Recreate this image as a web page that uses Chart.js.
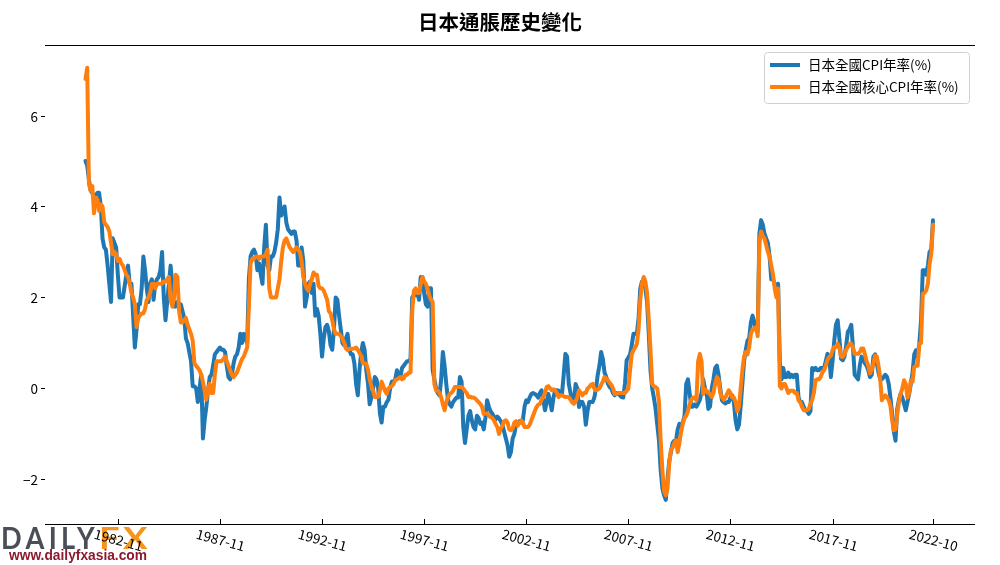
<!DOCTYPE html>
<html>
<head>
<meta charset="utf-8">
<script src="https://cdn.jsdelivr.net/npm/chart.js@4.4.1/dist/chart.umd.min.js"></script>
<style>
  html, body { margin: 0; padding: 0; background: #fff; }
  #wrap { width: 1000px; height: 565px; position: relative; }
</style>
</head>
<body>
<div id="wrap"><canvas id="chart"></canvas></div>
<script>
// monthly data, first point 1981-04, last point 2022-10
const START_YEAR = 1981;
const START_MONTH = 4;

// 日本全國CPI年率(%)
const CPI = [
  5.0, 4.9, 4.6, 4.35, 4.3, 4.2, 4.25, 4.3, 4.3,                       // 1981 Apr-Dec
  4.0, 3.3, 3.1, 3.05, 2.7, 2.3, 1.9, 3.3, 3.2, 3.1, 2.5, 2.0,         // 1982
  2.0, 2.0, 2.25, 2.5, 2.7, 2.3, 2.3, 1.6, 0.9, 1.3, 1.85, 1.85,       // 1983
  2.2, 2.9, 2.6, 2.2, 1.9, 2.3, 2.4, 1.95, 2.3, 2.4, 2.45, 2.6,        // 1984
  3.0, 2.0, 1.5, 1.9, 2.3, 2.7, 2.3, 1.8, 1.8, 1.9, 1.85, 1.85,        // 1985
  1.7, 1.55, 1.1, 1.0, 0.8, 0.6, 0.05, 0.05, 0.0, -0.3, 0.0, 0.3,      // 1986
  -1.1, -0.7, -0.4, -0.05, 0.25, 0.3, 0.5, 0.75, 0.8, 0.85, 0.9, 0.85, // 1987
  0.85, 0.8, 0.5, 0.25, 0.2, 0.3, 0.55, 0.7, 0.75, 0.9, 1.2, 1.0,      // 1988
  1.2, 1.1, 1.0, 2.4, 2.9, 3.0, 3.05, 2.95, 2.6, 2.75, 2.5, 2.3,       // 1989
  3.1, 3.6, 2.7, 2.6, 2.9, 2.9, 3.0, 3.2, 3.5, 4.2, 3.8, 3.9,          // 1990
  4.0, 3.65, 3.5, 3.45, 3.4, 3.45, 3.45, 3.25, 2.7, 2.7, 3.1, 2.8,     // 1991
  1.8, 2.0, 2.3, 2.35, 2.1, 2.3, 1.6, 1.75, 1.6, 1.2, 0.7, 1.1,        // 1992
  1.35, 1.4, 1.25, 0.95, 0.85, 1.3, 2.0, 1.95, 1.6, 1.3, 1.0, 0.95,    // 1993
  1.1, 1.2, 0.85, 0.75, 0.75, 0.55, 0.1, -0.15, 0.4, 0.8, 1.0, 0.85,   // 1994
  0.4, 0.1, -0.35, -0.2, 0.0, 0.25, 0.2, 0.0, -0.55, -0.75, -0.4, -0.4, // 1995
  -0.3, -0.25, 0.0, 0.15, 0.15, 0.2, 0.4, 0.3, 0.25, 0.45, 0.5, 0.55,  // 1996
  0.6, 0.6, 0.65, 2.0, 2.05, 2.05, 2.1, 1.95, 2.45, 2.45, 2.1, 1.85,   // 1997
  1.8, 2.2, 2.2, 0.4, 0.2, 0.0, -0.1, -0.15, 0.2, 0.8, 0.5, 0.1,       // 1998
  -0.25, -0.35, -0.4, -0.3, -0.25, -0.2, -0.2, 0.25, 0.15, -0.85, -1.2, -0.9,    // 1999
  -0.6, -0.5, -0.7, -0.85, -0.9, -0.6, -0.65, -0.78, -0.75, -0.9, -0.65, -0.26,  // 2000
  -0.4, -0.5, -0.55, -0.62, -0.68, -0.62, -0.66, -0.72, -0.8, -0.95, -1.1, -1.25, // 2001
  -1.5, -1.4, -1.1, -1.0, -0.8, -0.78, -0.72, -0.75, -0.7, -0.4, -0.26, -0.3,    // 2002
  -0.2, -0.12, -0.1, -0.12, -0.15, -0.2, -0.1, -0.04, -0.25, -0.48, -0.3, -0.12, // 2003
  -0.3, -0.48, -0.2, -0.04, -0.04, -0.05, -0.1, -0.12, 0.3, 0.76, 0.7, 0.1,      // 2004
  -0.1, -0.3, -0.3, 0.1, 0.0, -0.41, -0.3, -0.3, -0.4, -0.8, -0.5, -0.3,         // 2005
  -0.3, -0.3, -0.2, 0.0, 0.3, 0.5, 0.8, 0.65, 0.35, 0.25, 0.1, 0.03,             // 2006
  0.0, -0.1, -0.15, -0.1, -0.12, -0.15, -0.19, -0.2, 0.1, 0.62, 0.68, 0.75,      // 2007
  0.95, 1.2, 1.2, 1.2, 1.55, 2.2, 2.35, 2.35, 2.2, 1.9, 1.2, 0.4,                // 2008
  0.0, -0.2, -0.45, -0.8, -1.15, -1.8, -2.2, -2.35, -2.45, -2.0, -1.6, -1.4,     // 2009
  -1.2, -1.15, -1.15, -0.9, -0.78, -0.85, -0.75, -0.6, 0.1, 0.2, -0.1, -0.4,     // 2010
  -0.4, -0.35, -0.4, -0.33, -0.25, -0.1, 0.2, 0.0, -0.1, -0.45, -0.4, 0.0,       // 2011
  0.2, 0.45, 0.5, 0.3, 0.0, -0.26, -0.3, -0.33, -0.3, -0.3, -0.2, -0.15,         // 2012
  -0.3, -0.7, -0.9, -0.8, -0.4, 0.1, 0.6, 0.85, 1.05, 1.1, 1.45, 1.6,            // 2013
  1.45, 1.3, 1.25, 3.4, 3.7, 3.6, 3.4, 3.3, 3.2, 2.9, 2.4, 2.4,                  // 2014
  2.3, 2.1, 2.3, 0.6, 0.2, 0.45, 0.25, 0.25, 0.35, 0.25, 0.3, 0.25,              // 2015
  0.3, 0.3, -0.2, -0.3, -0.3, -0.4, -0.48, -0.5, -0.56, -0.5, 0.45, 0.4,         // 2016
  0.45, 0.4, 0.4, 0.45, 0.45, 0.45, 0.6, 0.76, 0.7, 0.25, 0.6, 1.05,             // 2017
  1.4, 1.5, 1.1, 0.65, 0.62, 0.7, 0.95, 1.25, 1.3, 1.4, 0.9, 0.3,                // 2018
  0.25, 0.2, 0.5, 0.7, 0.65, 0.55, 0.5, 0.4, 0.25, 0.3, 0.7, 0.75,               // 2019
  0.55, 0.35, 0.2, 0.2, 0.25, 0.3, 0.25, 0.1, -0.2, -0.55, -0.95, -1.15,         // 2020
  -0.45, -0.25, -0.12, -0.2, -0.34, -0.48, -0.3, -0.12, 0.1, 0.35, 0.75, 0.84,   // 2021
  0.7, 1.0, 1.5, 2.6, 2.6, 2.5, 2.7, 3.0, 3.05, 3.7,                             // 2022 Jan-Oct
];

// 日本全國核心CPI年率(%)
const CORE_CPI = [
  6.8, 7.05, 4.5, 4.35, 4.45, 3.85, 4.2, 4.15, 3.9,                    // 1981 Apr-Dec
  4.05, 4.0, 3.65, 3.6, 3.55, 3.45, 3.2, 2.95, 3.0, 2.95, 2.8, 2.85,   // 1982
  2.75, 2.7, 2.6, 2.5, 2.45, 2.3, 2.1, 2.0, 1.85, 1.35, 1.55, 1.6,     // 1983
  1.65, 1.65, 1.75, 1.95, 2.0, 2.1, 2.3, 2.3, 2.2, 2.3, 2.3, 2.3,      // 1984
  2.3, 2.35, 2.35, 2.4, 2.45, 1.95, 1.8, 2.0, 2.5, 2.45, 1.7, 1.45,    // 1985
  1.45, 1.5, 1.55, 1.4, 1.3, 1.2, 1.05, 0.55, 0.5, 0.45, 0.4, 0.3,     // 1986
  0.15, -0.05, -0.25, 0.0, 0.1, -0.1, -0.1, 0.3, 0.6, 0.6, 0.6, 0.6,   // 1987
  0.65, 0.7, 0.6, 0.5, 0.4, 0.3, 0.25, 0.3, 0.35, 0.45, 0.55, 0.65,    // 1988
  0.7, 0.8, 0.9, 1.8, 2.75, 2.85, 2.85, 2.9, 2.9, 2.85, 2.9, 2.9,      // 1989
  2.9, 2.95, 3.05, 2.2, 2.0, 2.0, 2.0, 2.0, 2.2, 2.4, 2.8, 3.1,        // 1990
  3.25, 3.3, 3.2, 3.1, 3.05, 3.0, 3.05, 3.1, 3.05, 3.0, 2.8, 2.45,     // 1991
  2.3, 2.2, 2.15, 2.3, 2.4, 2.55, 2.5, 2.5, 2.25, 2.2, 2.2, 2.15,      // 1992
  2.05, 1.95, 1.7, 1.65, 1.5, 1.3, 1.2, 1.2, 1.2, 1.15, 1.1, 1.0,      // 1993
  0.88, 0.84, 0.87, 0.87, 0.87, 0.88, 0.9, 0.85, 0.78, 0.72, 0.55, 0.55, // 1994
  0.54, 0.42, 0.2, 0.05, -0.05, -0.19, -0.19, -0.18, -0.05, 0.15, 0.05, -0.05, // 1995
  -0.12, 0.0, 0.03, 0.05, 0.1, 0.18, 0.2, 0.22, 0.25, 0.2, 0.22, 0.3,  // 1996
  0.3, 0.35, 0.35, 1.7, 2.15, 2.2, 2.1, 2.1, 2.3, 2.45, 2.35, 2.3,     // 1997
  2.2, 2.05, 1.95, 1.9, 0.1, -0.04, -0.05, -0.1, -0.2, -0.35, -0.48, -0.3,     // 1998
  -0.2, -0.12, -0.1, -0.05, 0.03, 0.03, 0.03, 0.03, 0.03, 0.0, -0.06, -0.1,    // 1999
  -0.19, -0.18, -0.2, -0.2, -0.22, -0.26, -0.3, -0.34, -0.4, -0.56, -0.55, -0.55, // 2000
  -0.6, -0.63, -0.65, -0.7, -0.78, -0.85, -1.0, -0.88, -0.82, -0.72, -0.7, -0.75, // 2001
  -0.9, -0.92, -0.88, -0.75, -0.72, -0.82, -0.75, -0.7, -0.75, -0.85, -0.85, -0.85, // 2002
  -0.8, -0.7, -0.6, -0.5, -0.41, -0.36, -0.34, -0.25, -0.19, -0.1, 0.03, 0.05,  // 2003
  0.0, -0.04, -0.02, -0.04, -0.1, -0.19, -0.15, -0.15, -0.17, -0.19, -0.19, -0.19, // 2004
  -0.25, -0.3, -0.34, -0.28, -0.2, -0.04, -0.1, -0.15, -0.1, -0.1, 0.0, 0.03,  // 2005
  0.08, 0.1, 0.0, -0.04, -0.02, 0.0, 0.08, 0.15, 0.25, 0.22, 0.18, 0.12,       // 2006
  0.08, 0.0, -0.12, -0.12, -0.1, -0.1, -0.1, -0.1, -0.1, -0.05, 0.0, 0.4,      // 2007
  0.75, 0.84, 0.9, 0.98, 1.3, 1.95, 2.3, 2.45, 2.35, 2.1, 1.5, 0.84,           // 2008
  0.1, 0.05, 0.03, 0.0, -0.3, -1.15, -1.8, -2.25, -2.35, -2.2, -1.65, -1.35,   // 2009
  -1.3, -1.2, -1.14, -1.4, -1.2, -0.95, -0.78, -0.65, -0.6, -0.5, -0.35, -0.25, // 2010
  -0.2, -0.2, -0.26, 0.6, 0.76, 0.6, -0.12, -0.02, -0.05, -0.1, -0.12, -0.19,  // 2011
  -0.1, 0.1, 0.25, 0.2, -0.1, -0.19, -0.25, -0.2, -0.12, -0.04, -0.1, -0.2,    // 2012
  -0.2, -0.3, -0.5, -0.4, 0.0, 0.4, 0.7, 0.8, 0.75, 0.9, 1.2, 1.3,             // 2013
  1.3, 1.35, 1.15, 3.2, 3.45, 3.35, 3.3, 3.15, 3.0, 2.9, 2.7, 2.5,             // 2014
  2.2, 2.0, 2.2, 0.05, 0.0, 0.1, 0.1, 0.0, -0.1, -0.05, -0.05, -0.05,          // 2015
  -0.1, -0.1, -0.26, -0.3, -0.4, -0.48, -0.48, -0.48, -0.45, -0.34, -0.25, -0.1, // 2016
  0.18, 0.2, 0.2, 0.25, 0.35, 0.4, 0.5, 0.62, 0.69, 0.72, 0.84, 0.91,          // 2017
  0.91, 0.98, 0.9, 0.7, 0.69, 0.75, 0.85, 0.91, 0.98, 0.98, 0.9, 0.76,         // 2018
  0.76, 0.76, 0.8, 0.88, 0.88, 0.75, 0.6, 0.5, 0.33, 0.4, 0.55, 0.72,          // 2019
  0.7, 0.5, 0.2, -0.26, -0.2, -0.15, -0.2, -0.26, -0.38, -0.7, -0.92, -0.9,    // 2020
  -0.56, -0.3, -0.12, 0.0, 0.18, 0.1, -0.2, -0.1, 0.18, 0.15, 0.47, 0.5,       // 2021
  0.5, 0.98, 1.0, 2.08, 2.1, 2.15, 2.3, 2.74, 2.96, 3.6,                       // 2022 Jan-Oct
];

const SERIES_LABELS = ['日本全國CPI年率(%)', '日本全國核心CPI年率(%)'];
const SERIES_COLORS = ['#1f77b4', '#ff7f0e'];

// x tick labels (placed by month index from start) and y ticks
const X_TICK_LABELS = ['1982-11', '1987-11', '1992-11', '1997-11', '2002-11', '2007-11', '2012-11', '2017-11', '2022-10'];
const Y_TICKS = [-2, 0, 2, 4, 6];

const TITLE = '日本通脹歷史變化';
const FONT = '"Noto Sans CJK TC", "Noto Sans", sans-serif';

function monthIndex(label) {
  const [y, m] = label.split('-').map(Number);
  return (y - START_YEAR) * 12 + (m - START_MONTH);
}

// draw text squeezed/stretched to a given width
function fitText(ctx, text, x, y, width) {
  const w = ctx.measureText(text).width;
  ctx.save();
  ctx.translate(x, y);
  ctx.scale(width / w, 1);
  ctx.fillText(text, 0, 0);
  ctx.restore();
}

// --- Custom drawing: spines, ticks, title, legend, logo ---
const decorations = {
  id: 'decorations',
  afterDraw(chart) {
    const { ctx, chartArea: area, scales } = chart;
    const xs = scales.x;
    const ys = scales.y;
    ctx.save();

    // top and bottom spines
    ctx.strokeStyle = '#000';
    ctx.lineWidth = 1.2;
    ctx.beginPath();
    ctx.moveTo(area.left, area.top + 0.5);
    ctx.lineTo(area.right, area.top + 0.5);
    ctx.moveTo(area.left, area.bottom + 0.5);
    ctx.lineTo(area.right, area.bottom + 0.5);
    ctx.stroke();

    // y ticks
    ctx.lineWidth = 1;
    ctx.fillStyle = '#000';
    ctx.font = `13.5px ${FONT}`;
    ctx.textAlign = 'right';
    ctx.textBaseline = 'middle';
    Y_TICKS.forEach((v) => {
      const py = Math.round(ys.getPixelForValue(v)) + 0.5;
      ctx.beginPath();
      ctx.moveTo(area.left - 4, py);
      ctx.lineTo(area.left, py);
      ctx.stroke();
      ctx.fillText(v < 0 ? '\u2212' + Math.abs(v) : String(v), area.left - 7, py);
    });

    // title
    ctx.font = `bold 20.5px ${FONT}`;
    ctx.textAlign = 'center';
    ctx.fillText(TITLE, 500, 22);

    // legend
    const lx = 764.5, ly = 52.5, lw = 205, lh = 51;
    ctx.fillStyle = 'rgba(255,255,255,0.85)';
    ctx.strokeStyle = '#d0d0d0';
    ctx.beginPath();
    ctx.roundRect(lx, ly, lw, lh, 3);
    ctx.fill();
    ctx.stroke();
    ctx.font = `13.5px ${FONT}`;
    ctx.textAlign = 'left';
    SERIES_LABELS.forEach((label, i) => {
      const y = 65 + i * 22;
      ctx.strokeStyle = SERIES_COLORS[i];
      ctx.lineWidth = 4;
      ctx.beginPath();
      ctx.moveTo(770, y);
      ctx.lineTo(800, y);
      ctx.stroke();
      ctx.fillStyle = '#000';
      ctx.fillText(label, 808, y);
    });

    // logo watermark
    ctx.textBaseline = 'alphabetic';
    ctx.font = 'bold 31px Lato, "DejaVu Sans", sans-serif';
    ctx.letterSpacing = '5px';
    ctx.fillStyle = '#4a4e57';
    fitText(ctx, 'DAILY', 1, 549, 98);
    ctx.fillStyle = '#f7941d';
    ctx.letterSpacing = '3px';
    fitText(ctx, 'FX', 99, 549, 52);
    ctx.letterSpacing = '0px';
    ctx.font = 'bold 14px "Liberation Sans", Arial, sans-serif';
    ctx.fillStyle = '#8b1a2e';
    fitText(ctx, 'www.dailyfxasia.com', 9, 560, 138);

    // x ticks (inward) and rotated labels
    ctx.strokeStyle = '#000';
    ctx.lineWidth = 1;
    ctx.fillStyle = '#000';
    ctx.font = `13.5px ${FONT}`;
    ctx.textAlign = 'center';
    ctx.textBaseline = 'middle';
    X_TICK_LABELS.forEach((label) => {
      const px = Math.round(xs.getPixelForValue(monthIndex(label))) + 0.5;
      ctx.beginPath();
      ctx.moveTo(px, area.bottom);
      ctx.lineTo(px, area.bottom - 5);
      ctx.stroke();
      ctx.save();
      ctx.translate(px, area.bottom + 16);
      ctx.rotate(15 * Math.PI / 180);
      ctx.fillText(label, 0, 0);
      ctx.restore();
    });

    ctx.restore();
  },
};

// --- Chart ---
const toPoints = (arr) => arr.map((v, i) => ({ x: i, y: v }));

new Chart(document.getElementById('chart'), {
  type: 'line',
  data: {
    datasets: [
      {
        label: SERIES_LABELS[0],
        data: toPoints(CPI),
        borderColor: SERIES_COLORS[0],
        borderWidth: 4, pointRadius: 0, tension: 0,
        borderJoinStyle: 'round', borderCapStyle: 'round',
        order: 1,
      },
      {
        label: SERIES_LABELS[1],
        data: toPoints(CORE_CPI),
        borderColor: SERIES_COLORS[1],
        borderWidth: 4, pointRadius: 0, tension: 0,
        borderJoinStyle: 'round', borderCapStyle: 'round',
        order: 0,
      },
    ],
  },
  options: {
    responsive: true,
    maintainAspectRatio: false,
    animation: false,
    devicePixelRatio: 1,
    layout: { padding: { left: 45, right: 25, top: 45, bottom: 41 } },
    plugins: {
      legend: { display: false },
      tooltip: { enabled: false },
    },
    scales: {
      x: { type: 'linear', display: false, min: -23.8, max: 522.7 },
      y: { type: 'linear', display: false, min: -2.98, max: 7.55 },
    },
  },
  plugins: [decorations],
});
</script>
</body>
</html>
